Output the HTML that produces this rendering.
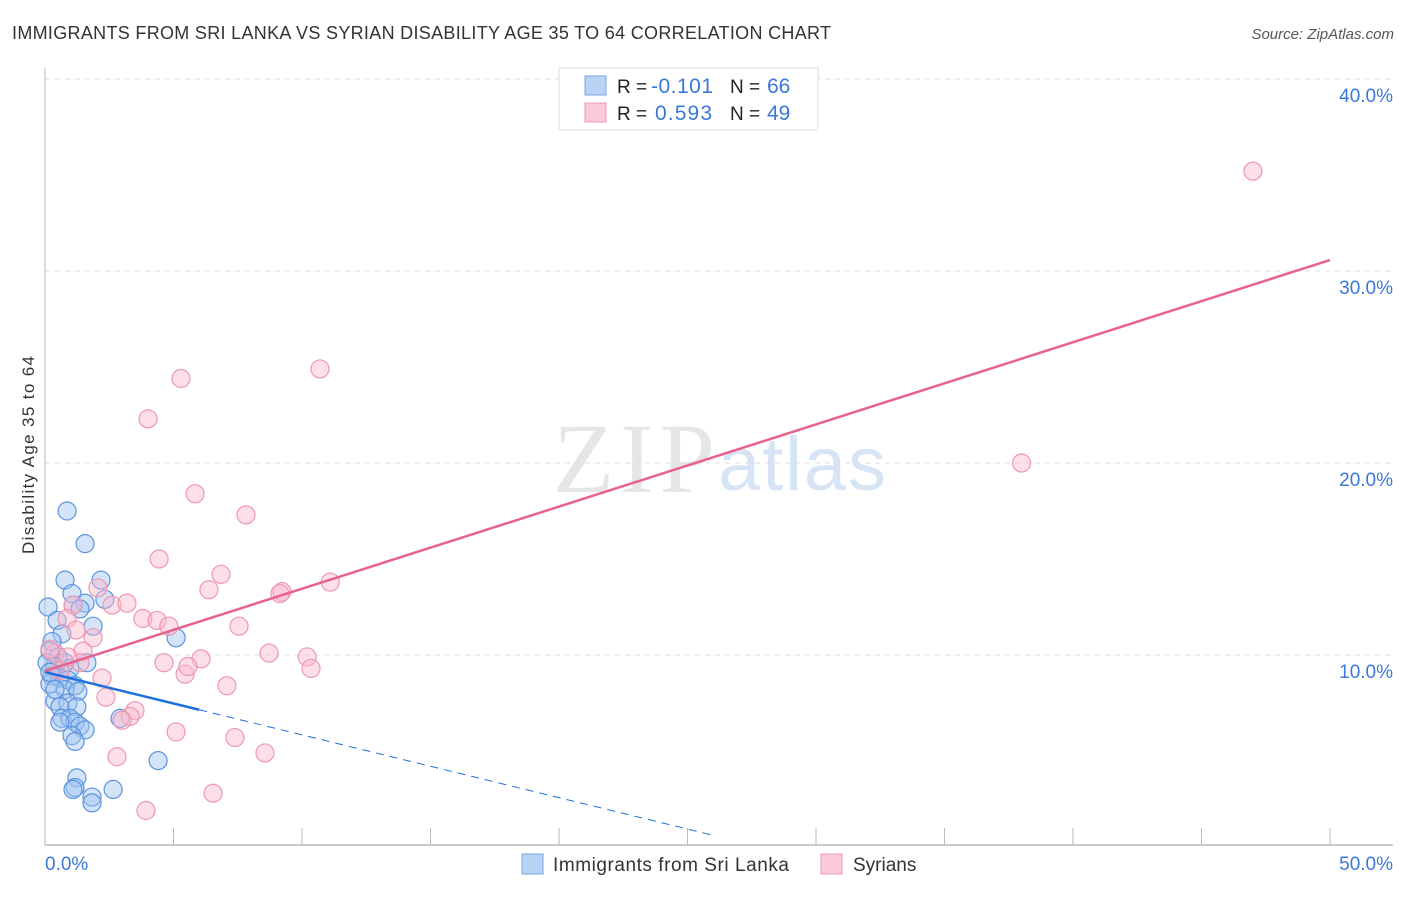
<!DOCTYPE html>
<html><head><meta charset="utf-8"><style>
body{margin:0;background:#fff;font-family:"Liberation Sans",sans-serif;}
</style></head><body>
<svg width="1406" height="892" xmlns="http://www.w3.org/2000/svg" id="chart">
<text x="12" y="39" font-size="18" fill="#333" textLength="819">IMMIGRANTS FROM SRI LANKA VS SYRIAN DISABILITY AGE 35 TO 64 CORRELATION CHART</text>
<text x="1394" y="39" font-size="15" fill="#555" font-style="italic" text-anchor="end">Source: ZipAtlas.com</text>
<text x="34" y="455" font-size="17" fill="#333" text-anchor="middle" transform="rotate(-90 34 455)" textLength="198">Disability Age 35 to 64</text>
<text x="553" y="492" font-size="100" fill="#e6e6e6" font-family="Liberation Serif,serif" textLength="162">ZIP</text>
<text x="718" y="490" font-size="76" fill="#d6e4f5" textLength="168">atlas</text>
<g id="grid"></g><g id="axes"></g><g id="pts"></g><g id="lines"></g>
<g>
<rect x="559" y="68" width="259" height="62" fill="#fff" stroke="#ddd"/>
<rect x="585" y="76" width="21" height="19" fill="#b9d3f5" stroke="#7aa6e4"/>
<rect x="585" y="103" width="21" height="19" fill="#fbcad8" stroke="#ec98b1"/>
<text x="617" y="93" font-size="19" fill="#222">R =</text>
<text x="651" y="93" font-size="21" fill="#3b78d8" textLength="62">-0.101</text>
<text x="730" y="93" font-size="19" fill="#222">N =</text>
<text x="767" y="93" font-size="21" fill="#3b78d8">66</text>
<text x="617" y="120" font-size="19" fill="#222">R =</text>
<text x="655" y="120" font-size="21" fill="#3b78d8" textLength="57">0.593</text>
<text x="730" y="120" font-size="19" fill="#222">N =</text>
<text x="767" y="120" font-size="21" fill="#3b78d8">49</text>
</g>
<g>
<rect x="522" y="854" width="21" height="20" fill="#b9d3f5" stroke="#7aa6e4"/>
<text x="553" y="871" font-size="19" fill="#333" textLength="236">Immigrants from Sri Lanka</text>
<rect x="821" y="854" width="21" height="20" fill="#fbcad8" stroke="#ec98b1"/>
<text x="853" y="871" font-size="19" fill="#333">Syrians</text>
</g>
</svg>
<script>
const xTicks=[0,5,10,15,20,25,30,35,40,45,50];
const yTicks=[10,20,30,40];
const blueX=[0.86,1.56,0.78,2.18,1.05,2.33,0.12,1.56,1.09,1.36,0.47,1.87,0.66,5.1,0.27,0.19,0.51,0.78,1.63,0.39,0.97,0.27,0.58,0.89,0.19,1.17,0.78,1.28,0.39,0.89,0.58,1.24,0.66,0.97,1.17,1.36,0.58,1.56,1.05,1.17,2.92,4.4,1.24,1.17,1.09,1.83,1.83,2.65,0.08,0.19,0.39];
const blueY=[17.5,15.8,13.9,13.9,13.2,12.9,12.5,12.7,12.6,12.4,11.8,11.5,11.1,10.9,10.7,10.2,9.9,9.6,9.6,9.4,9.3,8.9,8.8,8.7,8.5,8.4,8.2,8.1,7.6,7.5,7.3,7.3,6.7,6.7,6.5,6.3,6.5,6.1,5.8,5.5,6.7,4.5,3.6,3.1,3.0,2.6,2.3,3.0,9.6,9.1,8.2];
const pinkX=[47.0,10.7,5.29,4.01,5.84,7.82,38.0,4.44,6.85,11.1,6.38,9.22,9.14,2.06,2.61,3.19,1.09,0.86,3.81,4.36,4.82,7.55,1.21,1.87,1.48,0.39,8.72,10.2,5.45,4.63,6.07,5.56,10.35,2.22,7.08,2.37,3.5,3.31,5.1,3.0,7.39,2.8,8.56,6.54,3.93,0.58,1.36,0.19,0.89];
const pinkY=[35.2,24.9,24.4,22.3,18.4,17.3,20.0,15.0,14.2,13.8,13.4,13.3,13.2,13.5,12.6,12.7,12.6,11.9,11.9,11.8,11.5,11.5,11.3,10.9,10.2,10.1,10.1,9.9,9.0,9.6,9.8,9.4,9.3,8.8,8.4,7.8,7.1,6.8,6.0,6.6,5.7,4.7,4.9,2.8,1.9,9.2,9.6,10.3,9.9];
const trendBlue=[9.11,-0.327], trendPink=[9.17,0.428];
const X=v=>45+v*25.7, Y=v=>847-v*19.2;
const NS="http://www.w3.org/2000/svg";
function mk(tag,attrs,parent){const e=document.createElementNS(NS,tag);for(const k in attrs)e.setAttribute(k,attrs[k]);document.getElementById(parent).appendChild(e);return e;}
yTicks.forEach(t=>{
 const l=mk('line',{x1:45,x2:1393,y1:Y(t),y2:Y(t),stroke:'#ddd','stroke-dasharray':'5,5'},'grid');
 
 
 const tx=mk('text',{x:1393,y:Y(t)+23,'font-size':19,fill:'#3b78d8','text-anchor':'end'},'grid');tx.textContent=t.toFixed(1)+'%';
 
 
});
const ya=mk('line',{x1:45,x2:45,y1:68,y2:845,stroke:'#bbb'},'axes');


const xa=mk('line',{x1:45,x2:1393,y1:845,y2:845,stroke:'#bbb','stroke-width':1.5},'axes');


xTicks.forEach(t=>{
 const l=mk('line',{x1:X(t),x2:X(t),y1:828,y2:845,stroke:'#bbb'},'axes');
 
 
});
[[0,'start'],[50,'end']].forEach(([t,a])=>{
 const tx=mk('text',{x:t==0?45:1393,y:870,'font-size':19,fill:'#3b78d8','text-anchor':a},'axes');tx.textContent=t.toFixed(1)+'%';
 
 
});
blueX.forEach((v,i)=>{
 const c=mk('circle',{cx:X(v),cy:Y(blueY[i]),r:9,fill:'rgba(160,196,240,0.45)',stroke:'#5b93e0','stroke-width':1.2},'pts');
 
 
});
pinkX.forEach((v,i)=>{
 const c=mk('circle',{cx:X(v),cy:Y(pinkY[i]),r:9,fill:'rgba(250,185,205,0.45)',stroke:'#ee97b1','stroke-width':1.2},'pts');
 
 
});
const bs=mk('line',{x1:X(0),y1:Y(trendBlue[0]),x2:X(6),y2:Y(trendBlue[0]+6*trendBlue[1]),stroke:'#1f6fdc','stroke-width':2.5},'lines');


const bd=mk('line',{x1:X(6),y1:Y(trendBlue[0]+6*trendBlue[1]),x2:X(26),y2:Y(trendBlue[0]+26*trendBlue[1]),stroke:'#1f6fdc','stroke-width':1,'stroke-dasharray':'8,6'},'lines');


const pl=mk('line',{x1:X(0),y1:Y(trendPink[0]),x2:X(50),y2:Y(trendPink[0]+50*trendPink[1]),stroke:'#e8628e','stroke-width':2.5},'lines');


</script>
</body></html>
